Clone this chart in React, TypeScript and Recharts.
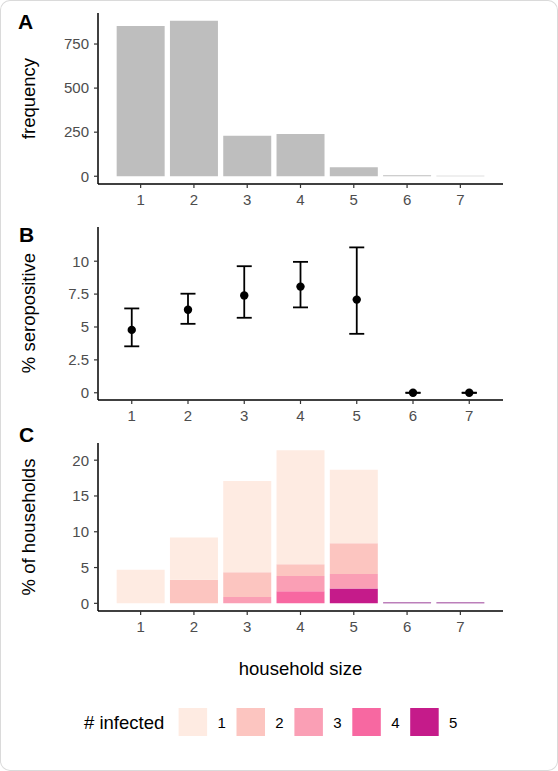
import React from 'react';
import { BarChart, Bar, XAxis, YAxis, ScatterChart, Scatter, ErrorBar } from 'recharts';

// ---------- data ----------
const householdSizes = [1, 2, 3, 4, 5, 6, 7];

// Panel A: frequency of household sizes
const frequency = [852, 882, 230, 240, 51, 5, 3];

// Panel B: % seropositive with 95% CI
const seroMean = [4.78, 6.31, 7.4, 8.07, 7.08, 0, 0];
const seroLow = [3.53, 5.24, 5.7, 6.49, 4.48, 0, 0];
const seroHigh = [6.41, 7.53, 9.62, 9.95, 11.05, 0, 0];

// Panel C: % of households by number infected
const infected1 = [4.7, 5.9, 12.77, 15.95, 10.3, 0, 0];
const infected2 = [0, 3.3, 3.45, 1.63, 4.29, 0, 0];
const infected3 = [0, 0, 0.88, 2.14, 2.0, 0, 0];
const infected4 = [0, 0, 0, 1.68, 0, 0, 0];
const infected5 = [0, 0, 0, 0, 2.09, 0, 0];
const infected6 = [0, 0, 0, 0, 0, 0.12, 0.12];

const legendLabels = ['1', '2', '3', '4', '5'];
const infectedColors = ['#FEEBE2', '#FCC5C0', '#FA9FB5', '#F768A1', '#C51B8A', '#7A0177'];

const ticksA = [0, 250, 500, 750];
const ticksB = [0, 2.5, 5, 7.5, 10];
const ticksC = [0, 5, 10, 15, 20];

// ---------- derived tables ----------
const dataA = householdSizes.map((s, i) => ({ size: s, frequency: frequency[i] }));
const dataB = householdSizes.map((s, i) => ({
  x: s,
  y: seroMean[i],
  err: [seroMean[i] - seroLow[i], seroHigh[i] - seroMean[i]],
}));
const dataC = householdSizes.map((s, i) => ({
  size: s,
  i1: infected1[i],
  i2: infected2[i],
  i3: infected3[i],
  i4: infected4[i],
  i5: infected5[i],
  i6: infected6[i],
}));

const FONT = '"Liberation Sans", Arial, Helvetica, sans-serif';
const axisLine = { stroke: '#000', strokeWidth: 1.5 };
const tickLine = { stroke: '#333', strokeWidth: 1.2 };
const tickStyle = { fill: '#4D4D4D', fontSize: 15, fontFamily: FONT };

const Dot = (props: any) => <circle cx={props.cx} cy={props.cy} r={4.2} fill="#000" />;

export default function App() {
  return (
    <div
      style={{
        position: 'absolute',
        left: 0,
        top: 0,
        width: 558,
        height: 771,
        background: '#fff',
        borderRadius: 10,
        boxShadow: 'inset 0 0 0 1px #DADADA',
        fontFamily: FONT,
      }}
    >
      {/* Panel A */}
      <div style={{ position: 'absolute', left: 0, top: 0 }}>
        <BarChart
          width={558}
          height={210}
          data={dataA}
          margin={{ top: 13, right: 55, bottom: 0, left: 0 }}
          barCategoryGap="5%"
        >
          <XAxis
            dataKey="size"
            height={26}
            padding={{ left: 16, right: 16 }}
            axisLine={axisLine}
            tickLine={tickLine}
            tickSize={4}
            tickMargin={6}
            tick={tickStyle}
          />
          <YAxis
            width={98}
            type="number"
            domain={[-44, 926]}
            ticks={ticksA}
            axisLine={axisLine}
            tickLine={tickLine}
            tickSize={4}
            tickMargin={5}
            tick={tickStyle}
          />
          <Bar dataKey="frequency" fill="#BEBEBE" isAnimationActive={false} />
        </BarChart>
      </div>

      {/* Panel B */}
      <div style={{ position: 'absolute', left: 0, top: 210 }}>
        <ScatterChart width={558} height={215} margin={{ top: 17, right: 55, bottom: 0, left: 0 }}>
          <XAxis
            type="number"
            dataKey="x"
            domain={[0.4, 7.6]}
            ticks={householdSizes}
            height={25}
            axisLine={axisLine}
            tickLine={tickLine}
            tickSize={4}
            tickMargin={6}
            tick={tickStyle}
          />
          <YAxis
            type="number"
            dataKey="y"
            width={98}
            domain={[-0.55, 12.6]}
            ticks={ticksB}
            axisLine={axisLine}
            tickLine={tickLine}
            tickSize={4}
            tickMargin={5}
            tick={tickStyle}
          />
          <Scatter data={dataB} shape={Dot} isAnimationActive={false}>
            <ErrorBar
              dataKey="err"
              direction="y"
              width={7.5}
              stroke="#000"
              strokeWidth={1.8}
              isAnimationActive={false}
            />
          </Scatter>
        </ScatterChart>
      </div>

      {/* Panel C */}
      <div style={{ position: 'absolute', left: 0, top: 425 }}>
        <BarChart
          width={558}
          height={215}
          data={dataC}
          margin={{ top: 18, right: 55, bottom: 0, left: 0 }}
          barCategoryGap="5%"
        >
          <XAxis
            dataKey="size"
            height={29}
            padding={{ left: 16, right: 16 }}
            axisLine={axisLine}
            tickLine={tickLine}
            tickSize={4}
            tickMargin={6}
            tick={tickStyle}
          />
          <YAxis
            width={98}
            type="number"
            domain={[-1.07, 22.4]}
            ticks={ticksC}
            axisLine={axisLine}
            tickLine={tickLine}
            tickSize={4}
            tickMargin={5}
            tick={tickStyle}
          />
          <Bar dataKey="i6" stackId="s" fill={infectedColors[5]} isAnimationActive={false} />
          <Bar dataKey="i5" stackId="s" fill={infectedColors[4]} isAnimationActive={false} />
          <Bar dataKey="i4" stackId="s" fill={infectedColors[3]} isAnimationActive={false} />
          <Bar dataKey="i3" stackId="s" fill={infectedColors[2]} isAnimationActive={false} />
          <Bar dataKey="i2" stackId="s" fill={infectedColors[1]} isAnimationActive={false} />
          <Bar dataKey="i1" stackId="s" fill={infectedColors[0]} isAnimationActive={false} />
        </BarChart>
      </div>

      {/* Text overlay: panel letters, axis titles, legend */}
      <svg
        width={558}
        height={771}
        style={{ position: 'absolute', left: 0, top: 0, pointerEvents: 'none' }}
        fontFamily={FONT}
      >
        <text x={18} y={29} fontSize={21} fontWeight="bold" fill="#000">A</text>
        <text x={19} y={242} fontSize={21} fontWeight="bold" fill="#000">B</text>
        <text x={19} y={442} fontSize={21} fontWeight="bold" fill="#000">C</text>

        <text
          x={0}
          y={0}
          transform="translate(28,98.5) rotate(-90)"
          textAnchor="middle"
          dominantBaseline="central"
          fontSize={18.5}
          fill="#000"
        >
          frequency
        </text>
        <text
          x={0}
          y={0}
          transform="translate(28,313) rotate(-90)"
          textAnchor="middle"
          dominantBaseline="central"
          fontSize={18.5}
          fill="#000"
        >
          % seropositive
        </text>
        <text
          x={0}
          y={0}
          transform="translate(28,527) rotate(-90)"
          textAnchor="middle"
          dominantBaseline="central"
          fontSize={18.5}
          fill="#000"
        >
          % of households
        </text>

        <text x={300.5} y={668} textAnchor="middle" dominantBaseline="central" fontSize={18.5} fill="#000">
          household size
        </text>

        <text x={84} y={722} dominantBaseline="central" fontSize={18.5} fill="#000">
          # infected
        </text>
        {legendLabels.map((lab, i) => (
          <g key={lab}>
            <rect x={178.6 + i * 57.9} y={708} width={28.5} height={28} fill={infectedColors[i]} />
            <text
              x={178.6 + i * 57.9 + 43}
              y={722}
              textAnchor="middle"
              dominantBaseline="central"
              fontSize={15}
              fill="#000"
            >
              {lab}
            </text>
          </g>
        ))}
      </svg>
    </div>
  );
}
